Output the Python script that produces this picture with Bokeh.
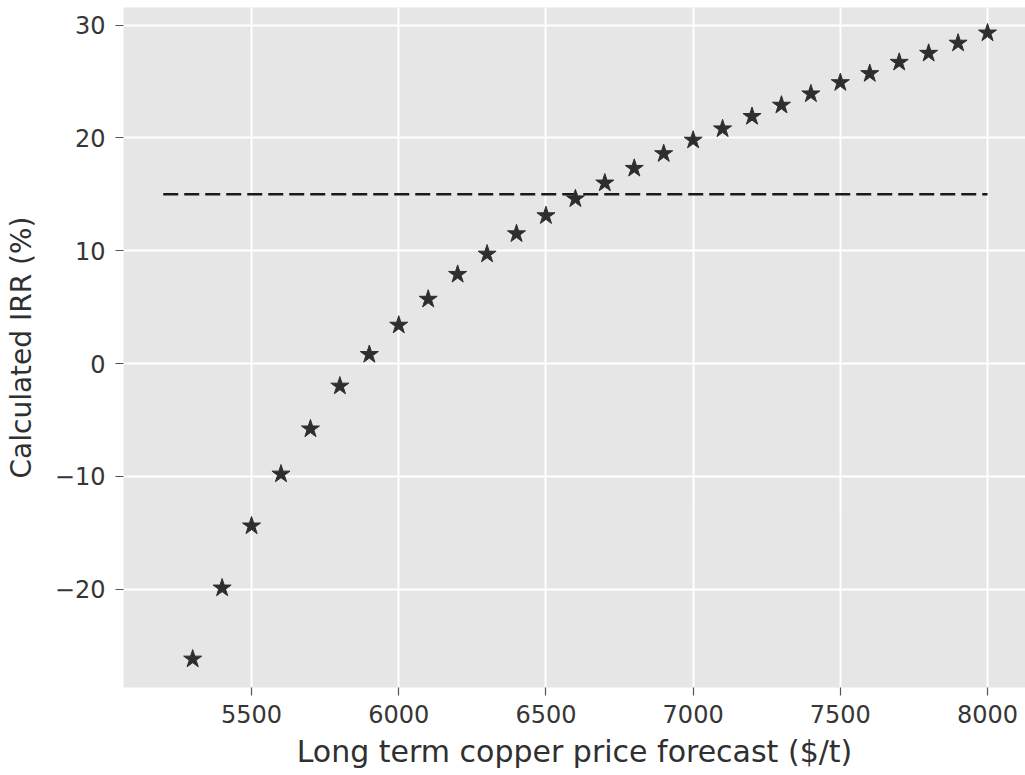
from bokeh.plotting import figure
from bokeh.models import Range1d, FixedTicker, ColumnDataSource
from bokeh.embed import file_html
from bokeh.resources import INLINE

# Long term copper price forecast ($/t) and the resulting IRR (%)
prices = [5300, 5400, 5500, 5600, 5700, 5800, 5900, 6000, 6100, 6200,
          6300, 6400, 6500, 6600, 6700, 6800, 6900, 7000, 7100, 7200,
          7300, 7400, 7500, 7600, 7700, 7800, 7900, 8000]
irr = [-26.2, -19.9, -14.4, -9.8, -5.8, -2.0, 0.8, 3.4, 5.7, 7.9,
       9.7, 11.5, 13.1, 14.6, 16.0, 17.3, 18.6, 19.8, 20.8, 21.9,
       22.9, 23.9, 24.9, 25.7, 26.7, 27.5, 28.4, 29.3]

# Hurdle rate drawn as a dashed reference line
hurdle_x = [5200, 8000]
hurdle_y = [15, 15]

x_ticks = [5500, 6000, 6500, 7000, 7500, 8000]
y_ticks = [-20, -10, 0, 10, 20, 30]
y_tick_labels = ["\u221220", "\u221210", "0", "10", "20", "30"]

FONT = "DejaVu Sans"

p = figure(
    width=1025, height=775,
    output_backend="svg", toolbar_location=None,
    x_range=Range1d(5065, 8129), y_range=Range1d(-28.72, 31.56),
    min_border_left=123, min_border_right=0,
    min_border_top=7, min_border_bottom=88,
)

p.background_fill_color = "#e6e6e6"
p.border_fill_color = "white"
p.outline_line_color = None

for g in (p.xgrid, p.ygrid):
    g.grid_line_color = "white"
    g.grid_line_width = 2

p.xaxis.ticker = FixedTicker(ticks=x_ticks)
p.yaxis.ticker = FixedTicker(ticks=y_ticks)
p.yaxis.major_label_overrides = {t: s for t, s in zip(y_ticks, y_tick_labels)}
p.xgrid.ticker = FixedTicker(ticks=x_ticks)
p.ygrid.ticker = FixedTicker(ticks=y_ticks)

for ax in (p.xaxis, p.yaxis):
    ax.axis_line_color = None
    ax.minor_tick_line_color = None
    ax.major_tick_line_color = "#555555"
    ax.major_tick_line_width = 1.2
    ax.major_tick_in = 0
    ax.major_tick_out = 8
    ax.major_label_text_font = FONT
    ax.major_label_text_font_size = "24px"
    ax.major_label_text_color = "#363636"
    ax.axis_label_text_font = FONT
    ax.axis_label_text_font_style = "normal"
    ax.axis_label_text_color = "#303030"

p.xaxis.axis_label_text_font_size = "30px"
p.yaxis.axis_label_text_font_size = "28px"

p.xaxis.major_label_standoff = 9
p.yaxis.major_label_standoff = 10
p.xaxis.axis_label_standoff = 8
p.yaxis.axis_label_standoff = 14

p.xaxis.axis_label = "Long term copper price forecast ($/t)"
p.yaxis.axis_label = "Calculated IRR (%)"

p.line(hurdle_x, hurdle_y, line_color="#1a1a1a", line_width=2.6,
       line_dash="15 6")

src = ColumnDataSource(data=dict(price=prices, irr=irr))
p.scatter("price", "irr", source=src, marker="star", size=19,
          fill_color="#2e2e2e", line_color="#2e2e2e")

open("out.html", "w").write(file_html(p, INLINE))
